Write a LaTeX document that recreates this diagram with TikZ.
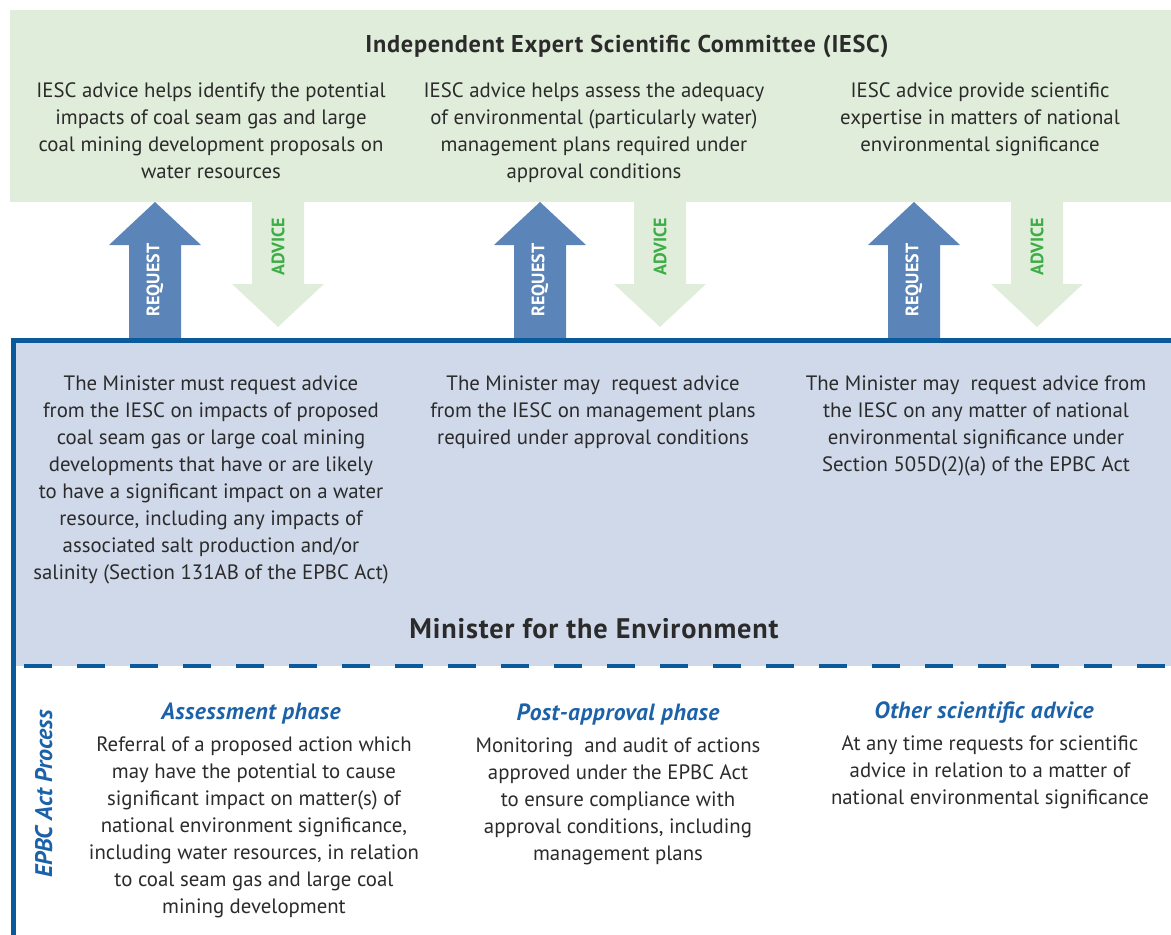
\documentclass[tikz,border=0pt]{standalone}
\usepackage{fontspec}
\setmainfont{PT Sans}
\usepackage{xcolor}
\usetikzlibrary{calc}

\definecolor{iescgreen}{HTML}{E1EDDB}
\definecolor{minblue}{HTML}{D0D9EA}
\definecolor{edgeblue}{HTML}{0B5A9C}
\definecolor{reqblue}{HTML}{5B84B8}
\definecolor{advgreen}{HTML}{3DAD48}
\definecolor{headblue}{HTML}{1C62A8}
\definecolor{txtgray}{HTML}{2B2B2B}

\tikzset{
	body/.style={align=center, anchor=base, inner sep=0pt, text=txtgray, font=\fontsize{20.8}{27}\selectfont},
	title/.style={anchor=base, inner sep=0pt, text=txtgray, font=\fontsize{24.3}{28}\selectfont\bfseries\addfontfeatures{LetterSpace=3}},
	phase/.style={anchor=base, inner sep=0pt, text=headblue, font=\fontsize{23.5}{27}\selectfont\bfseries\itshape\addfontfeatures{LetterSpace=2}},
	reqtext/.style={rotate=90, inner sep=0pt, text=white, font=\fontsize{18}{20}\selectfont\bfseries},
	advtext/.style={rotate=90, inner sep=0pt, text=advgreen, font=\fontsize{18}{20}\selectfont\bfseries},
	edge/.style={draw=edgeblue, line width=5pt},
	edgedash/.style={draw=edgeblue, line width=4pt, dash pattern=on 28pt off 25pt, dash phase=-11pt}
}

\begin{document}
\begin{tikzpicture}[x=1pt, y=-1pt]
	\def\W{1171}
	\def\H{935}
	\def\gtop{10}
	\def\gbot{202}
	\def\btop{340}
	\def\bbot{666}
	\def\sh{26}
	\def\hd{46}

	\useasboundingbox (0,0) rectangle (\W,\H);

	\fill[iescgreen]	(10,\gtop) rectangle (\W,\gbot);
	\fill[minblue]		(13,\btop) rectangle (\W,\bbot);

	\foreach \xr/\xa [count=\i] in {155/278, 540/660, 914/1037}{
		\fill[reqblue]		(\xr-\sh,\btop) -- (\xr-\sh,245) -- (\xr-\hd,245) -- (\xr,\gbot) -- (\xr+\hd,245) -- (\xr+\sh,245) -- (\xr+\sh,\btop) -- cycle;
		\fill[iescgreen]	(\xa-\sh,\gbot-1) -- (\xa-\sh,284) -- (\xa-\hd,284) -- (\xa,327) -- (\xa+\hd,284) -- (\xa+\sh,284) -- (\xa+\sh,\gbot-1) -- cycle;
		\node[reqtext] (req-\i) at (\xr,280) {REQUEST};
		\node[advtext] (adv-\i) at (\xa,247) {ADVICE};
	}

	\draw[edge]		(\W,\btop) -- (13,\btop) -- (13,\H);
	\draw[edgedash]	(13,\bbot) -- (\W,\bbot);

	% anchor=base sits on the last line of a wrapped node
	\node[title] (iesc) at (627,52) {Independent Expert Scientific Committee (IESC)};
	\node[body] (top-1) at (211,178) {IESC advice helps identify the potential\\impacts of coal seam gas and large\\coal mining development proposals on\\water resources};
	\node[body] (top-2) at (594,178) {IESC advice helps assess the adequacy\\of environmental (particularly water)\\management plans required under\\approval conditions};
	\node[body] (top-3) at (980,151) {IESC advice provide scientific\\expertise in matters of national\\environmental significance};

	\node[body] (min-1) at (211,579) {The Minister must request advice\\from the IESC on impacts of proposed\\coal seam gas or large coal mining\\developments that have or are likely\\to have a significant impact on a water\\resource, including any impacts of\\associated salt production and/or\\salinity (Section 131AB of the EPBC Act)};
	\node[body] (min-2) at (593,444) {The Minister may\ \ request advice\\from the IESC on management plans\\required under approval conditions};
	\node[body] (min-3) at (976,471) {The Minister may\ \ request advice from\\the IESC on any matter of national\\environmental significance under\\Section 505D(2)(a) of the EPBC Act};
	\node[title, font=\fontsize{28.3}{32}\selectfont\bfseries\addfontfeatures{LetterSpace=3}] (minister) at (594,638) {Minister for the Environment};

	\node[phase, font=\fontsize{24}{28}\selectfont\bfseries\itshape, rotate=90] (epbc) at (52,794) {EPBC Act Process};

	\node[phase] (phase-1) at (251,719) {Assessment phase};
	\node[body] (proc-1) at (254,913) {Referral of a proposed action which\\may have the potential to cause\\significant impact on matter(s) of\\national environment significance,\\including water resources, in relation\\to coal seam gas and large coal\\mining development};
	\node[phase] (phase-2) at (618,720) {Post-approval phase};
	\node[body] (proc-2) at (618,860) {Monitoring\ \ and audit of actions\\approved under the EPBC Act\\to ensure compliance with\\approval conditions, including\\management plans};
	\node[phase] (phase-3) at (984,718) {Other scientific advice};
	\node[body] (proc-3) at (990,804) {At any time requests for scientific\\advice in relation to a matter of\\national environmental significance};
\end{tikzpicture}
\end{document}
